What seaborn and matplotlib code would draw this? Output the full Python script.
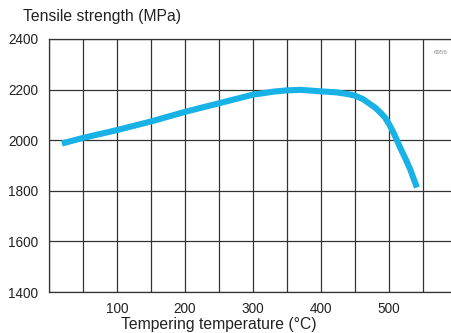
import matplotlib
matplotlib.use("Agg")
import matplotlib.pyplot as plt
import seaborn as sns
import pandas as pd

# Tempering temperature (°C) vs tensile strength (MPa)
temperature = [19, 50, 100, 150, 200, 250, 300, 330, 350, 370, 400, 423, 440, 450, 462, 472,
               480, 487, 494, 500, 508, 516, 524, 531, 541]
strength = [1987, 2009, 2040, 2074, 2112, 2146, 2180, 2192, 2197, 2199, 2193, 2189, 2182, 2176,
            2162, 2143, 2128, 2110, 2090, 2064, 2022, 1973, 1928, 1886, 1813]

x_ticks = [100, 200, 300, 400, 500]
y_ticks = [1400, 1600, 1800, 2000, 2200, 2400]

sns.set_theme(style="white")
plt.rcParams["font.family"] = ["Liberation Sans", "DejaVu Sans"]

df = pd.DataFrame({"temperature": temperature, "strength": strength})

fig = plt.figure(figsize=(4.51, 3.33), dpi=100)
ax = fig.add_axes([49 / 451, 41 / 333, 408 / 451, 253 / 333])

sns.lineplot(data=df, x="temperature", y="strength", ax=ax, color="#18b2e6",
             linewidth=4.4, solid_capstyle="butt", solid_joinstyle="round", zorder=3)

ax.set_xlim(0, 600)
ax.set_ylim(1400, 2400)

# grid every 50 °C and every 200 MPa
ax.set_xticks(range(0, 601, 50), minor=True)
ax.set_xticks(x_ticks)
ax.set_yticks(y_ticks)
ax.grid(True, which="both", axis="x", color="#333333", linewidth=0.9)
ax.grid(True, which="major", axis="y", color="#333333", linewidth=0.9)
for s in ax.spines.values():
    s.set_color("#333333")
    s.set_linewidth(0.9)

ax.tick_params(axis="both", which="both", length=0, labelsize=9.8, colors="#222222")
ax.tick_params(axis="y", pad=8)
ax.tick_params(axis="x", pad=7)
ax.set_xlabel("")
ax.set_ylabel("")

fig.text(23 / 451, 1 - 17 / 333, "Tensile strength (MPa)", fontsize=11.3,
         color="#222222", va="center", ha="left")
fig.text(219 / 451, 1 - 325 / 333, "Tempering temperature (°C)", fontsize=11.3,
         color="#222222", va="center", ha="center")
ax.text(0.943, 0.945, "6956", transform=ax.transAxes, fontsize=4.5,
        color="#888888", ha="left", va="center")

fig.savefig("out.png", dpi=100)
